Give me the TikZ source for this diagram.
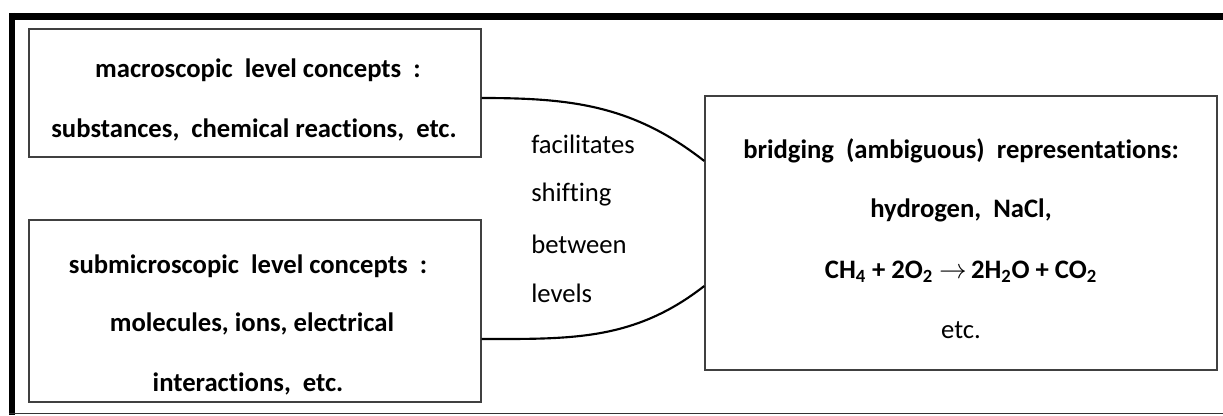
\documentclass[tikz,border=0pt]{standalone}
\usepackage{fontspec}
\setmainfont{Carlito}[Ligatures={NoCommon,NoContextual}]
\usetikzlibrary{positioning}
\tikzset{levelbox/.style={
    % The shape:
    rectangle,
    inner sep=0pt,
    % The border:
    line width=1.1pt,
    draw=black!75,
    },
    boldline/.style={
    font=\fontsize{20}{24}\selectfont\bfseries,
    anchor=base,
    inner sep=0pt,
    },
    plainline/.style={
    font=\fontsize{20}{24}\selectfont,
    anchor=base,
    inner sep=0pt,
    },
    midline/.style={
    font=\fontsize{20}{24}\selectfont,
    anchor=base west,
    inner sep=0pt,
    },
    link/.style={
    line width=1.6pt,
    },
}

\begin{document}
\begin{tikzpicture}[x=0.75pt,y=0.75pt]
    \useasboundingbox (0,0) rectangle (1223,415);
    % frame
    \draw[line width=5.25pt] (9,398.5) -- (1223,398.5);
    \draw[line width=4.5pt] (12,402) -- (12,0);
    \draw[line width=1.2pt,black!80] (9,1.5) -- (1223,1.5);

    \node (macro)    [levelbox,minimum width=339pt,minimum height=96pt]    at (255,322) {};
    \node (submicro) [levelbox,minimum width=339pt,minimum height=136.5pt] at (255,104) {};
    \node (bridge)   [levelbox,minimum width=384pt,minimum height=205.5pt] at (961,182) {};

    \node (macrotop) [boldline] at (258,337) {macroscopic\ \ level concepts\ \ :};
    \node (macrobot) [boldline] at (254,278) {substances,\ \ chemical reactions,\ \ etc.};

    \node (subtop) [boldline] at (248,142) {submicroscopic\ \ level concepts\ \ :};
    \node (submid) [boldline] at (252,84)  {molecules,\ ions,\ electrical};
    \node (subbot) [boldline] at (248,24)  {interactions,\ \ etc.};

    \node (facil) [midline] at (531,262) {facilitates};
    \node (shift) [midline] at (531,214) {shifting};
    \node (betw)  [midline] at (531,162) {between};
    \node (lev)   [midline] at (531,113) {levels};

    \node (bridgetop) [boldline]  at (961,257) {bridging\ \ (ambiguous)\ \ representations:};
    \node (examples)  [boldline]  at (961,198) {hydrogen,\ \ NaCl,};
    \node (equation)  [boldline]  at (961,137) {CH\textsubscript{4} + 2O\textsubscript{2} $\rightarrow$\,2H\textsubscript{2}O + CO\textsubscript{2}};
    \node (etc)       [plainline] at (961,77)  {etc.};

    \draw[link] (macro.east |- 0,317) to[out=0,in=142] (bridge.west |- 0,254);
    \draw[link] (submicro.east |- 0,76) to[out=0,in=-142] (bridge.west |- 0,129);
  \end{tikzpicture}
\end{document}
